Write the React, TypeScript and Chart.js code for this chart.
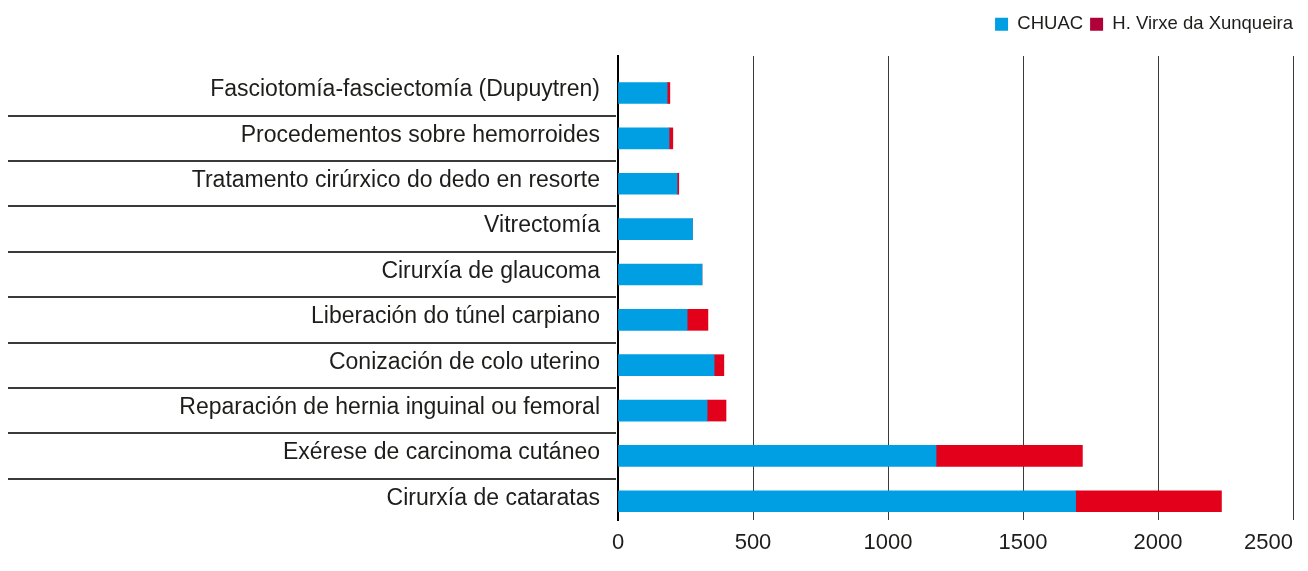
import { useEffect, useRef } from "react";
import { Chart, registerables } from "chart.js";

Chart.register(...registerables);

// ---- Data ----
const categories = [
  "Fasciotomía-fasciectomía (Dupuytren)",
  "Procedementos sobre hemorroides",
  "Tratamento cirúrxico do dedo en resorte",
  "Vitrectomía",
  "Cirurxía de glaucoma",
  "Liberación do túnel carpiano",
  "Conización de colo uterino",
  "Reparación de hernia inguinal ou femoral",
  "Exérese de carcinoma cutáneo",
  "Cirurxía de cataratas",
];
const chuacValues = [182, 189, 219, 276, 311, 256, 356, 330, 1178, 1695];
const xunqueiraValues = [10, 14, 6, 0, 0, 77, 36, 70, 542, 540];
const seriesNames = ["CHUAC", "H. Virxe da Xunqueira"];
const xMin = 0;
const xMax = 2500;
const xStep = 500;

// ---- Styles ----
const FONT = '"Liberation Sans", Arial, Helvetica, sans-serif';
const TEXT = "#1d1d1b";
const barColors = ["#009FE3", "#E2001A"];
const legendColors = ["#009FE3", "#B0003A"];
// category scale placement (start value / range of the index axis)
const CAT_START = -0.8156;
const CAT_RANGE = 10.228;

const legendGap = {
  id: "legendGap",
  beforeInit(chart: any) {
    const legend = chart.legend;
    if (!legend) return;
    const orig = legend.fit;
    legend.fit = function () {
      orig.call(this);
      this.height += 12.5;
    };
  },
};

const separators = {
  id: "separators",
  afterDraw(chart: any) {
    const y = chart.scales.y;
    const { ctx, chartArea } = chart;
    ctx.save();
    ctx.strokeStyle = "#3a3a3a";
    ctx.lineWidth = 2;
    for (let i = 0; i < categories.length - 1; i++) {
      const py = Math.round(y.getPixelForValue(i + 0.5));
      ctx.beginPath();
      ctx.moveTo(0, py);
      ctx.lineTo(chartArea.left - 2, py);
      ctx.stroke();
    }
    ctx.restore();
  },
};

const xLabels = {
  id: "xLabels",
  afterDraw(chart: any) {
    const s = chart.scales.x;
    const { ctx, chartArea } = chart;
    ctx.save();
    ctx.font = `22px ${FONT}`;
    ctx.fillStyle = TEXT;
    ctx.textAlign = "left";
    ctx.textBaseline = "alphabetic";
    s.ticks.forEach((t: any) => {
      const label = String(t.label);
      const w = ctx.measureText(label).width;
      let x = s.getPixelForValue(t.value) - w / 2;
      if (x + w > chartArea.right) x = chartArea.right - w;
      ctx.fillText(label, x, chartArea.bottom + 29);
    });
    ctx.restore();
  },
};

export default function App() {
  const ref = useRef<HTMLCanvasElement>(null);
  useEffect(() => {
    const chart = new Chart(ref.current as HTMLCanvasElement, {
      type: "bar",
      data: {
        labels: categories,
        datasets: [
          {
            label: seriesNames[0],
            data: chuacValues,
            backgroundColor: barColors[0],
            borderWidth: 0,
            barThickness: 21,
          },
          {
            label: seriesNames[1],
            data: xunqueiraValues,
            backgroundColor: barColors[1],
            borderWidth: 0,
            barThickness: 21,
          },
        ],
      },
      options: {
        indexAxis: "y",
        responsive: true,
        maintainAspectRatio: false,
        animation: false,
        layout: { padding: { top: 0, left: 0, right: 0, bottom: 43 } },
        plugins: {
          legend: {
            position: "top",
            align: "end",
            labels: {
              boxWidth: 13,
              boxHeight: 13,
              padding: 7,
              color: TEXT,
              font: { family: FONT, size: 18.5 },
              generateLabels: (c: any) =>
                c.data.datasets.map((ds: any, i: number) => ({
                  text: ds.label,
                  fillStyle: legendColors[i],
                  strokeStyle: legendColors[i],
                  lineWidth: 0,
                  hidden: false,
                  datasetIndex: i,
                  fontColor: TEXT,
                })),
            },
          },
          tooltip: { enabled: false },
        },
        scales: {
          x: {
            type: "linear",
            stacked: true,
            min: xMin,
            max: xMax,
            ticks: {
              display: false,
              stepSize: xStep,
              callback: (v: any) => String(v),
            },
            grid: { color: "#3a3a3a", lineWidth: 1, drawTicks: false },
            border: { display: false },
          },
          y: {
            type: "category",
            stacked: true,
            afterBuildTicks: (s: any) => {
              s._startValue = CAT_START;
              s._valueRange = CAT_RANGE;
            },
            afterFit: (s: any) => {
              s.width = 610;
            },
            ticks: {
              padding: 18,
              labelOffset: -3,
              color: TEXT,
              font: { family: FONT, size: 23 },
            },
            grid: { display: false, drawTicks: false },
            border: { display: true, color: "#000000", width: 2 },
          },
          yPad: {
            type: "category",
            position: "right",
            display: true,
            ticks: { display: false },
            grid: { display: false, drawTicks: false },
            border: { display: false },
            afterFit: (s: any) => {
              s.width = 7;
            },
          },
        },
      } as any,
      plugins: [legendGap, separators, xLabels],
    });
    return () => chart.destroy();
  }, []);
  return (
    <div style={{ position: "relative", width: "100%", height: 555 }}>
      <canvas ref={ref} />
    </div>
  );
}
